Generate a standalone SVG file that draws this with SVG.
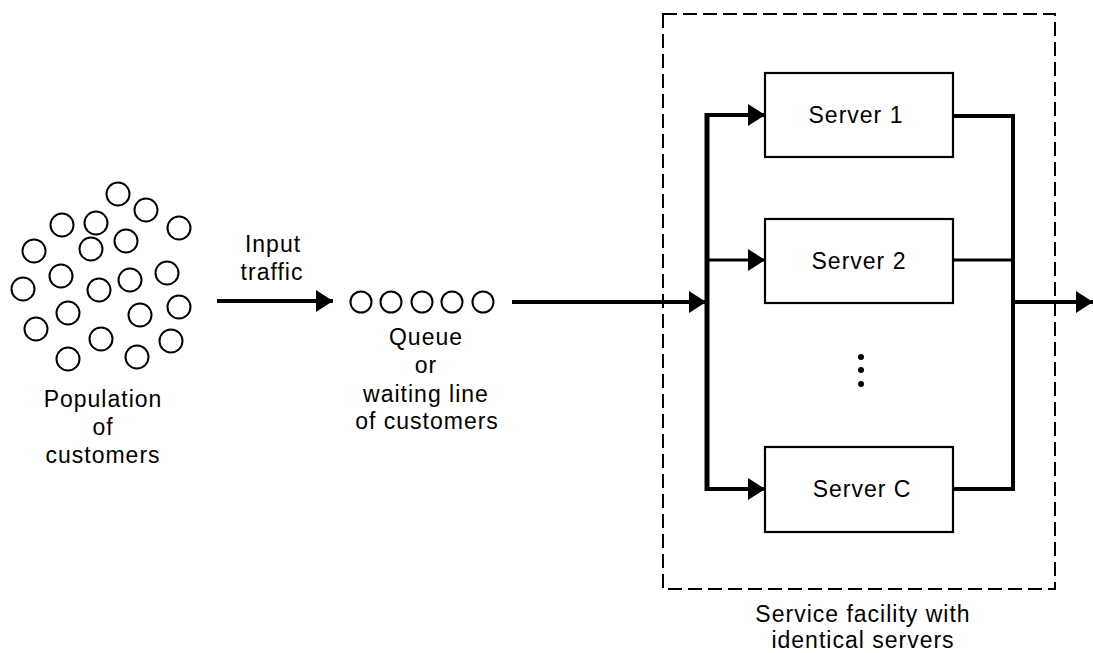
<svg xmlns="http://www.w3.org/2000/svg" width="1093" height="653" viewBox="0 0 1093 653">
<style>
  text { font-family: "Liberation Sans", Arial, sans-serif; font-size: 23px; fill: #000; text-anchor: middle; letter-spacing: 1px; }
  .cust { fill: none; stroke: #000; stroke-width: 2; }
  .box { fill: #fff; stroke: #000; stroke-width: 2.2; }
  .wire { fill: none; stroke: #000; stroke-width: 4; }
  .thin { fill: none; stroke: #000; stroke-width: 3; }
  .dash { fill: none; stroke: #000; stroke-width: 2; stroke-dasharray: 14 6; }
</style>
<defs>
  <marker id="arrow" markerUnits="userSpaceOnUse" markerWidth="18" markerHeight="24" refX="17" refY="12" orient="auto">
    <path d="M0,1 L17,12 L0,23 Z" fill="#000"/>
  </marker>
</defs>
<rect width="1093" height="653" fill="#fff"/>

<g id="population">
  <circle class="cust" cx="118" cy="194" r="11.5"/>
  <circle class="cust" cx="146" cy="210" r="11.5"/>
  <circle class="cust" cx="179" cy="228" r="11.5"/>
  <circle class="cust" cx="62" cy="225" r="11.5"/>
  <circle class="cust" cx="96" cy="223" r="11.5"/>
  <circle class="cust" cx="126" cy="241" r="11.5"/>
  <circle class="cust" cx="34" cy="251" r="11.5"/>
  <circle class="cust" cx="91" cy="249" r="11.5"/>
  <circle class="cust" cx="61" cy="276" r="11.5"/>
  <circle class="cust" cx="130" cy="280" r="11.5"/>
  <circle class="cust" cx="167" cy="273" r="11.5"/>
  <circle class="cust" cx="23" cy="289" r="11.5"/>
  <circle class="cust" cx="99" cy="290" r="11.5"/>
  <circle class="cust" cx="179" cy="307" r="11.5"/>
  <circle class="cust" cx="68" cy="313" r="11.5"/>
  <circle class="cust" cx="140" cy="315" r="11.5"/>
  <circle class="cust" cx="36" cy="329" r="11.5"/>
  <circle class="cust" cx="101" cy="339" r="11.5"/>
  <circle class="cust" cx="171" cy="341" r="11.5"/>
  <circle class="cust" cx="68" cy="359" r="11.5"/>
  <circle class="cust" cx="137" cy="357" r="11.5"/>
  <text x="103" y="407">Population</text>
  <text x="103" y="435">of</text>
  <text x="103" y="463">customers</text>
</g>

<g id="input-label">
  <text x="273" y="252">Input</text>
  <text x="272" y="280">traffic</text>
</g>

<g id="queue">
  <circle class="cust" cx="361" cy="302" r="10.5"/>
  <circle class="cust" cx="391" cy="302" r="10.5"/>
  <circle class="cust" cx="422" cy="302" r="10.5"/>
  <circle class="cust" cx="452" cy="302" r="10.5"/>
  <circle class="cust" cx="483" cy="302" r="10.5"/>
  <text x="426" y="345">Queue</text>
  <text x="426" y="373">or</text>
  <text x="426" y="402">waiting line</text>
  <text x="427" y="429">of customers</text>
</g>

<g id="facility">
  <rect class="dash" x="663" y="14" width="392" height="575"/>
  <text x="863" y="622">Service facility with</text>
  <text x="863" y="648">identical servers</text>
</g>

<g id="connectors">
  <line class="wire" x1="217" y1="301" x2="333" y2="301" marker-end="url(#arrow)"/>
  <line class="wire" x1="512" y1="302" x2="706" y2="302" marker-end="url(#arrow)"/>
  <line x1="707" y1="113" x2="707" y2="491" stroke="#000" stroke-width="5"/>
  <line class="wire" x1="707" y1="115" x2="765" y2="115" marker-end="url(#arrow)"/>
  <line class="thin" x1="707" y1="260" x2="765" y2="260" marker-end="url(#arrow)"/>
  <line class="wire" x1="707" y1="489" x2="765" y2="489" marker-end="url(#arrow)"/>
  <path class="wire" d="M953,116 H1013 V489 H953"/>
  <line class="thin" x1="953" y1="260" x2="1013" y2="260"/>
  <line class="wire" x1="1013" y1="302" x2="1093" y2="302" marker-end="url(#arrow)"/>
</g>

<g id="server1">
  <rect class="box" x="765" y="73" width="188" height="84"/>
  <text x="856" y="123">Server 1</text>
</g>
<g id="server2">
  <rect class="box" x="765" y="219" width="188" height="84"/>
  <text x="859" y="269">Server 2</text>
</g>
<g id="ellipsis">
  <circle cx="861" cy="357" r="3"/>
  <circle cx="861" cy="370" r="3"/>
  <circle cx="861" cy="384" r="3"/>
</g>
<g id="serverC">
  <rect class="box" x="765" y="447" width="188" height="85"/>
  <text x="862" y="497">Server C</text>
</g>
</svg>
